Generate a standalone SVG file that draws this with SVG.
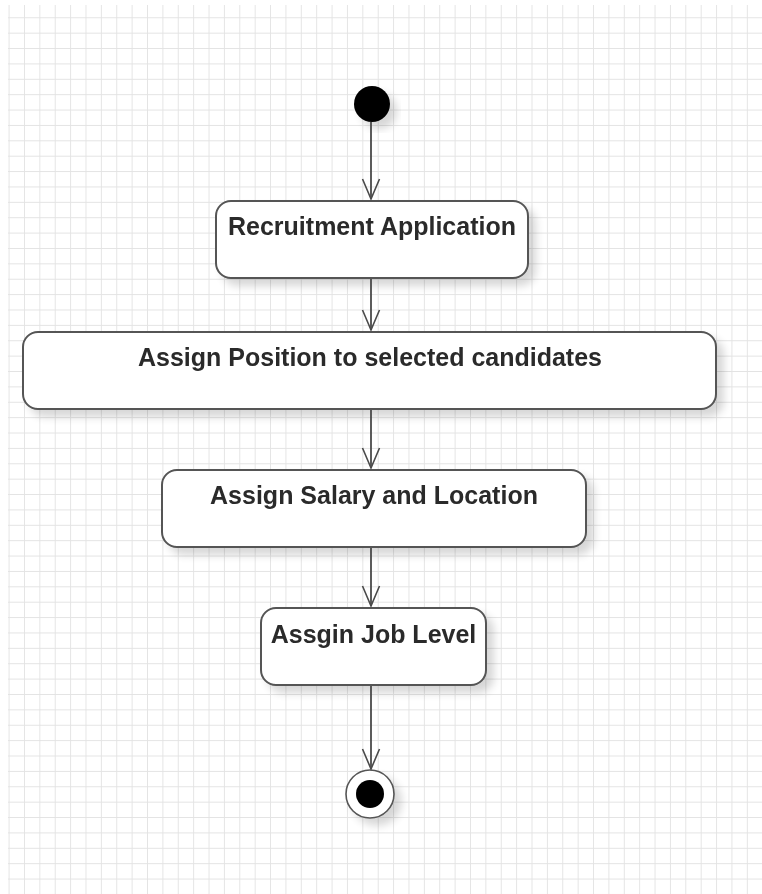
<svg xmlns="http://www.w3.org/2000/svg" width="762" height="894" viewBox="0 0 762 894">
  <defs>
    <pattern id="grid" patternUnits="userSpaceOnUse" x="8.6" y="1.9" width="15.38" height="15.38">
      <path d="M0,0 H15.38 M0,0 V15.38" fill="none" stroke="#e3e3e3" stroke-width="1.8"/>
    </pattern>
    <filter id="shadow" x="-20%" y="-20%" width="150%" height="150%">
      <feGaussianBlur in="SourceAlpha" stdDeviation="4"/>
      <feOffset dx="7" dy="7" result="b"/>
      <feComponentTransfer><feFuncA type="linear" slope="0.16"/></feComponentTransfer>
      <feMerge><feMergeNode/><feMergeNode in="SourceGraphic"/></feMerge>
    </filter>
    <marker id="open" viewBox="-22 -11 24 22" refX="0" refY="0" markerWidth="24" markerHeight="22" markerUnits="userSpaceOnUse" orient="auto" overflow="visible">
      <path d="M-20,-8.5 L0,0 L-20,8.5" fill="none" stroke="#4a4a4a" stroke-width="1.6"/>
    </marker>
  </defs>
  <style>
    .node rect { fill: #ffffff; stroke: #555555; stroke-width: 2; }
    .label { font-family: "Liberation Sans", Arial, sans-serif; font-weight: bold; font-size: 25px; fill: #2a2a2a; text-anchor: middle; }
    .conn line { stroke: #4a4a4a; stroke-width: 1.8; marker-end: url(#open); }
  </style>
  <rect x="0" y="0" width="762" height="894" fill="#ffffff"/>
  <rect x="8" y="5" width="754" height="889" fill="url(#grid)"/>

  <g id="start" filter="url(#shadow)">
    <circle cx="372" cy="104" r="18" fill="#000000"/>
  </g>

  <g id="recruitment-application" class="node" filter="url(#shadow)">
    <rect x="216" y="201" width="312" height="77" rx="15" ry="15"/>
    <text class="label" x="372" y="235">Recruitment Application</text>
  </g>

  <g id="assign-position" class="node" filter="url(#shadow)">
    <rect x="23" y="332" width="693" height="77" rx="15" ry="15"/>
    <text class="label" x="370" y="366">Assign Position to selected candidates</text>
  </g>

  <g id="assign-salary" class="node" filter="url(#shadow)">
    <rect x="162" y="470" width="424" height="77" rx="15" ry="15"/>
    <text class="label" x="374" y="504">Assign Salary and Location</text>
  </g>

  <g id="assign-job-level" class="node" filter="url(#shadow)">
    <rect x="261" y="608" width="225" height="77" rx="15" ry="15"/>
    <text class="label" x="373.5" y="643">Assgin Job Level</text>
  </g>

  <g id="end" filter="url(#shadow)">
    <circle cx="370" cy="794" r="24" fill="#ffffff" stroke="#555555" stroke-width="1.6"/>
    <circle cx="370" cy="794" r="14" fill="#000000"/>
  </g>

  <g id="connectors" class="conn">
    <line x1="371" y1="122" x2="371" y2="199"/>
    <line x1="371" y1="279" x2="371" y2="330"/>
    <line x1="371" y1="410" x2="371" y2="468"/>
    <line x1="371" y1="548" x2="371" y2="606"/>
    <line x1="371" y1="686" x2="371" y2="769"/>
  </g>
</svg>
